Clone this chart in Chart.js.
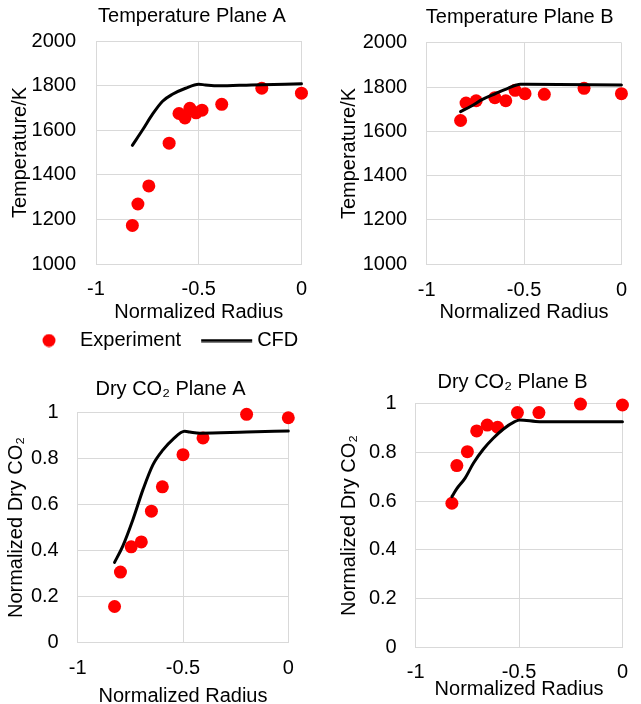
<!DOCTYPE html>
<html>
<head>
<meta charset="utf-8">
<script src="https://cdn.jsdelivr.net/npm/chart.js@4/dist/chart.umd.min.js"></script>
<style>
  html, body { margin: 0; padding: 0; background: #fff; overflow: hidden; width: 641px; height: 704px; }
  .panel { position: absolute; }
  canvas { display: block; }
</style>
</head>
<body>
<div class="panel" style="left:0;top:0"><canvas id="tempA" width="320" height="362"></canvas></div>
<div class="panel" style="left:320px;top:0"><canvas id="tempB" width="321" height="360"></canvas></div>
<div class="panel" style="left:0;top:360px"><canvas id="co2A" width="320" height="351"></canvas></div>
<div class="panel" style="left:320px;top:360px"><canvas id="co2B" width="321" height="344"></canvas></div>
<script>
// tick values
const radiusTicks = [-1, -0.5, 0];
const temperatureTicks = [1000, 1200, 1400, 1600, 1800, 2000];
const co2Ticks = [0, 0.2, 0.4, 0.6, 0.8, 1];

// Temperature plane A
const tempARadius = [-0.823, -0.796, -0.743, -0.644, -0.596, -0.567, -0.543, -0.513, -0.484, -0.388, -0.193, 0];
const tempAExp = [1173, 1269, 1350, 1542, 1675, 1655, 1698, 1678, 1690, 1716, 1788, 1766];
const tempACfdRadius = [-0.823, -0.772, -0.724, -0.676, -0.628, -0.564, -0.5, -0.468, -0.404, -0.244, 0];
const tempACfd = [1532, 1603, 1673, 1730, 1761, 1788, 1806, 1803, 1799, 1803, 1808];

// Temperature plane B
const tempBRadius = [-0.826, -0.798, -0.746, -0.65, -0.594, -0.546, -0.495, -0.396, -0.192, 0];
const tempBExp = [1649, 1728, 1738, 1752, 1738, 1785, 1770, 1767, 1794, 1770];
const tempBCfdRadius = [-0.826, -0.775, -0.711, -0.647, -0.583, -0.519, -0.487, 0];
const tempBCfd = [1689, 1712, 1745, 1770, 1794, 1812, 1812, 1809];

// Dry CO2 plane A
const co2ARadius = [-0.825, -0.797, -0.746, -0.698, -0.65, -0.598, -0.5, -0.405, -0.198, 0];
const co2AExp = [0.156, 0.306, 0.416, 0.437, 0.571, 0.677, 0.817, 0.89, 0.993, 0.978];
const co2ACfdRadius = [-0.825, -0.786, -0.738, -0.69, -0.643, -0.595, -0.548, -0.492, -0.468, -0.42, -0.198, 0];
const co2ACfd = [0.348, 0.419, 0.534, 0.665, 0.773, 0.838, 0.884, 0.919, 0.916, 0.911, 0.916, 0.92];

// Dry CO2 plane B
const co2BRadius = [-0.825, -0.801, -0.75, -0.705, -0.654, -0.604, -0.508, -0.404, -0.203, 0];
const co2BExp = [0.591, 0.745, 0.802, 0.887, 0.911, 0.902, 0.962, 0.962, 0.997, 0.993];
const co2BCfdRadius = [-0.825, -0.801, -0.761, -0.721, -0.673, -0.625, -0.577, -0.521, -0.497, -0.4, 0];
const co2BCfd = [0.618, 0.651, 0.694, 0.755, 0.812, 0.857, 0.894, 0.925, 0.932, 0.925, 0.925];

const fontFamily = "'Liberation Sans', Arial, sans-serif";
Chart.defaults.font.family = fontFamily;
Chart.defaults.font.size = 20;
Chart.defaults.color = "#000";

const gridColor = "#d9d9d9";
const expColor = "#ff0000";

const toPoints = (xs, ys) => xs.map((x, i) => ({ x, y: ys[i] }));
const tickList = (values) => (scale) => {
  scale.ticks = values.map((value) => ({ value }));
};

const makeIcon = (w, h, draw) => {
  const c = document.createElement("canvas");
  c.width = w;
  c.height = h;
  draw(c.getContext("2d"));
  return c;
};
const dotIcon = makeIcon(80, 14, (ctx) => {
  ctx.fillStyle = expColor;
  ctx.beginPath();
  ctx.arc(49, 7, 6.5, 0, Math.PI * 2);
  ctx.fill();
});
const lineIcon = makeIcon(80, 4, (ctx) => {
  ctx.fillStyle = "#000";
  ctx.fillRect(24, 0.5, 51, 3);
});

// panel title, centred like the spreadsheet did it (not over the plot area)
const panelTitle = {
  id: "panelTitle",
  afterDraw(chart, args, opts) {
    if (!opts || !opts.text) {
      return;
    }
    const { ctx } = chart;
    ctx.save();
    ctx.font = `20px ${fontFamily}`;
    ctx.fillStyle = "#000";
    ctx.textAlign = "center";
    ctx.textBaseline = "middle";
    ctx.fillText(opts.text, opts.x, opts.y);
    ctx.restore();
  }
};
Chart.register(panelTitle);

const renderPanel = (canvasId, panel) => {
  const canvas = document.getElementById(canvasId);
  new Chart(canvas, {
    type: "scatter",
    data: {
      datasets: [
        {
          label: "Experiment",
          data: toPoints(panel.expX, panel.expY),
          backgroundColor: expColor,
          borderWidth: 0,
          pointRadius: 6.5,
          order: 1,
          clip: false
        },
        {
          label: "CFD",
          data: toPoints(panel.cfdX, panel.cfdY),
          showLine: true,
          borderColor: "#000",
          backgroundColor: "#000",
          borderWidth: 3,
          borderCapStyle: "round",
          borderJoinStyle: "round",
          pointRadius: 0,
          cubicInterpolationMode: "monotone",
          order: 0,
          clip: false
        }
      ]
    },
    options: {
      responsive: false,
      animation: false,
      devicePixelRatio: 1,
      events: [],
      layout: { padding: panel.padding },
      plugins: {
        tooltip: { enabled: false },
        panelTitle: panel.title,
        legend: {
          display: !!panel.legend,
          position: "bottom",
          align: "start",
          labels: {
            usePointStyle: true,
            pointStyleWidth: 60,
            padding: 6,
            font: { size: 20 },
            color: "#000",
            generateLabels(chart) {
              const items = Chart.defaults.plugins.legend.labels.generateLabels(chart);
              items.sort((a, b) => a.datasetIndex - b.datasetIndex);
              items.forEach((item) => {
                item.pointStyle = item.datasetIndex === 0 ? dotIcon : lineIcon;
              });
              return items;
            }
          }
        }
      },
      scales: {
        x: {
          type: "linear",
          min: -1,
          max: 0,
          afterBuildTicks: tickList(radiusTicks),
          ticks: {
            padding: panel.xTickPad,
            color: "#000",
            callback: (value) => String(value)
          },
          grid: { color: gridColor, drawTicks: false },
          border: { color: gridColor },
          title: {
            display: true,
            text: "Normalized Radius",
            color: "#000",
            padding: { top: 0, bottom: 0 }
          },
          afterFit(scale) {
            scale.height = panel.xHeight;
          }
        },
        y: {
          type: "linear",
          min: panel.yTicks[0],
          max: panel.yTicks[panel.yTicks.length - 1],
          afterBuildTicks: tickList(panel.yTicks),
          ticks: {
            padding: panel.yTickPad,
            color: "#000",
            callback: (value) => String(value)
          },
          grid: { color: gridColor, drawTicks: false },
          border: { color: gridColor },
          title: {
            display: true,
            text: panel.yTitle,
            color: "#000",
            padding: { top: 4, bottom: 4 }
          },
          afterFit(scale) {
            scale.width = panel.yWidth;
          }
        }
      }
    }
  });
};

renderPanel("tempA", {
  expX: tempARadius, expY: tempAExp, cfdX: tempACfdRadius, cfdY: tempACfd,
  yTicks: temperatureTicks, yTitle: "Temperature/K",
  title: { text: "Temperature Plane A", x: 192, y: 16 },
  padding: { left: 4, top: 41, right: 15, bottom: 1.5 },
  yWidth: 92, yTickPad: 20, xHeight: 60.5, xTickPad: 13, legend: true
});
renderPanel("tempB", {
  expX: tempBRadius, expY: tempBExp, cfdX: tempBCfdRadius, cfdY: tempBCfd,
  yTicks: temperatureTicks, yTitle: "Temperature/K",
  title: { text: "Temperature Plane B", x: 199.7, y: 17 },
  padding: { left: 13, top: 42.7, right: 6.7, bottom: 36 },
  yWidth: 93.7, yTickPad: 19.5, xHeight: 59.7, xTickPad: 14
});
renderPanel("co2A", {
  expX: co2ARadius, expY: co2AExp, cfdX: co2ACfdRadius, cfdY: co2ACfd,
  yTicks: co2Ticks, yTitle: "Normalized Dry CO₂",
  title: { text: "Dry CO₂ Plane A", x: 170.5, y: 29 },
  padding: { left: 0, top: 52.7, right: 31.7, bottom: 3 },
  yWidth: 77.7, yTickPad: 19, xHeight: 65.7, xTickPad: 14
});
renderPanel("co2B", {
  expX: co2BRadius, expY: co2BExp, cfdX: co2BCfdRadius, cfdY: co2BCfd,
  yTicks: co2Ticks, yTitle: "Normalized Dry CO₂",
  title: { text: "Dry CO₂ Plane B", x: 192.5, y: 22.7 },
  padding: { left: 13, top: 43.3, right: 17.7, bottom: 3 },
  yWidth: 82.7, yTickPad: 19, xHeight: 53.3, xTickPad: 13
});
</script>
</body>
</html>
